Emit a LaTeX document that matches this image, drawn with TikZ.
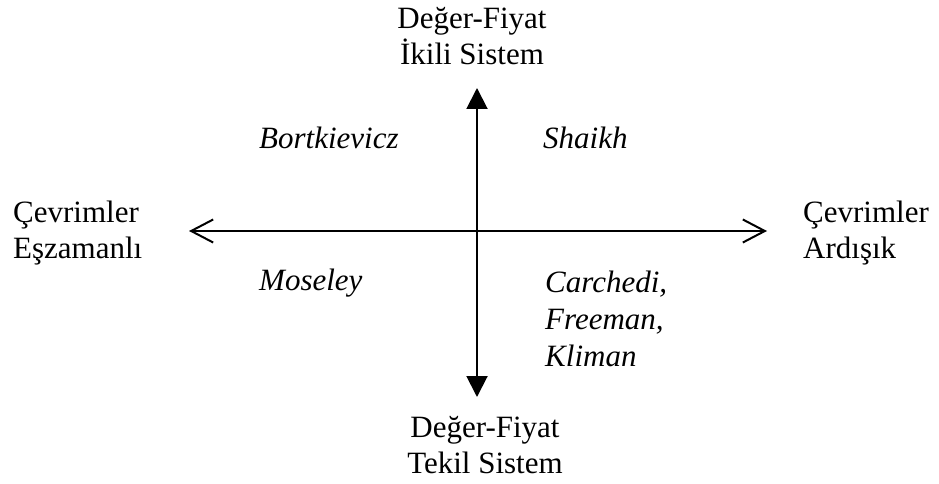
\documentclass[tikz,border=0pt]{standalone}
\usepackage{fontspec}
\setmainfont{Liberation Serif}
\usetikzlibrary{arrows.meta}
\begin{document}
\begin{tikzpicture}[x=1pt,y=-1pt,
  lbl/.style={inner sep=0pt,font=\fontsize{31}{36}\selectfont},
  axis/.style={line width=2pt}]
\useasboundingbox (0,0) rectangle (939,484);
\node[lbl,anchor=base,align=center] (top) at (472,65) {Değer-Fiyat\\İkili Sistem};
\node[lbl,anchor=base,align=center] (bot) at (485,473) {Değer-Fiyat\\Tekil Sistem};
\node[lbl,anchor=base west,align=left] (left) at (13,258) {Çevrimler\\Eşzamanlı};
\node[lbl,anchor=base west,align=left] (right) at (803,258) {Çevrimler\\Ardışık};
\node[lbl,anchor=base west] (bort) at (259,149) {\itshape Bortkievicz};
\node[lbl,anchor=base west] (shaikh) at (543,149) {\itshape Shaikh};
\node[lbl,anchor=base west] (mos) at (259,290) {\itshape Moseley};
\node[lbl,anchor=base west,align=left,font=\fontsize{31}{37}\selectfont] (cfk) at (545,366) {\itshape Carchedi,\\\itshape Freeman,\\\itshape Kliman};
\coordinate (n) at (477,88);
\coordinate (s) at (477,397);
\coordinate (w) at (189,231);
\coordinate (e) at (767,231);
\draw[axis,{Triangle[length=21pt,width=21pt]}-{Triangle[length=21pt,width=21pt]}] (n) -- (s);
\draw[axis,{Straight Barb[length=22pt,width=23pt]}-{Straight Barb[length=22pt,width=23pt]}] (w) -- (e);
\end{tikzpicture}
\end{document}
